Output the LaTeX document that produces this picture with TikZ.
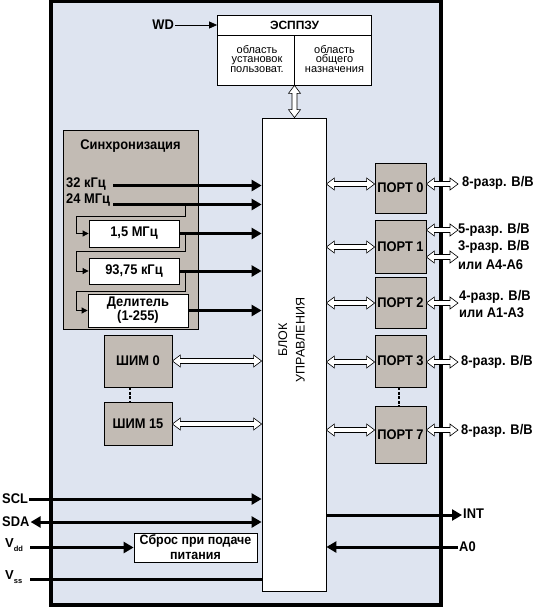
\documentclass[tikz,border=0pt]{standalone}
\usepackage{fontspec}
\setmainfont{Liberation Sans}
\newfontfamily\condf[FakeStretch=0.92]{Liberation Sans}
\usetikzlibrary{arrows.meta,calc}
\definecolor{bgc}{RGB}{222,228,240}
\definecolor{boxgray}{RGB}{194,187,180}
\newcommand\lblfont{\condf\bfseries\fontsize{14}{14}\selectfont}
\newcommand\rstfont{\condf\bfseries\fontsize{13.5}{15}\selectfont}
\newcommand\smallf{\fontsize{11}{9.8}\selectfont}
\newcommand\blkfont{\fontsize{12.5}{17.5}\selectfont}
\newcommand\eepfont{\bfseries\fontsize{12}{14}\selectfont}
% hollow double arrow, horizontal
\newcommand\hdarr[2]{\path[hollow] let \p1=(#1), \p2=(#2) in
  (\x1,\y1) -- ++(8pt,6pt) -- ++(0pt,-3.5pt) -- (\x2-8pt,\y2+2.5pt) -- ++(0pt,3.5pt)
  -- (\x2,\y2) -- ++(-8pt,-6pt) -- ++(0pt,3.5pt) -- (\x1+8pt,\y1-2.5pt) -- ++(0pt,-3.5pt) -- cycle;}
% hollow double arrow, vertical (#1 above #2)
\newcommand\vdarr[2]{\path[hollow] let \p1=(#1), \p2=(#2) in
  (\x1,\y1) -- ++(6pt,-8pt) -- ++(-3.5pt,0pt) -- (\x2+2.5pt,\y2+8pt) -- ++(3.5pt,0pt)
  -- (\x2,\y2) -- ++(-6pt,8pt) -- ++(3.5pt,0pt) -- (\x1-2.5pt,\y1-8pt) -- ++(-3.5pt,0pt) -- cycle;}
\begin{document}
\begin{tikzpicture}[x=1pt,y=-1pt,
  box/.style={draw, line width=0.8pt, inner sep=0pt, align=center},
  graybox/.style={box, fill=boxgray, font=\lblfont},
  whitebox/.style={box, fill=white},
  lbl/.style={font=\lblfont, inner sep=1pt},
  sig/.style={line width=3pt, -{Triangle[length=10pt,width=11pt]}},
  sigboth/.style={line width=3pt, {Triangle[length=10pt,width=11pt]}-{Triangle[length=10pt,width=11pt]}},
  sigline/.style={line width=3pt},
  feed/.style={line width=0.8pt, -{Triangle[length=6pt,width=6pt]}},
  warr/.style={line width=0.8pt, -{Triangle[length=8pt,width=7pt]}},
  hollow/.style={draw, fill=white, line width=0.6pt},
  dotc/.style={line width=2.5pt, dash pattern=on 3pt off 1.5pt}]
\useasboundingbox (0,0) rectangle (536,608);
\fill[white] (0,0) rectangle (536,608);
% chip frame
\node[draw, line width=3.3pt, fill=bgc, minimum width=390pt, minimum height=603.5pt, inner sep=0pt] (chip) at (246,303.25) {};
% control block
\node[whitebox, minimum width=64pt, minimum height=473pt] (blk) at (294,354.5) {};
\node[font=\blkfont, rotate=90, align=center, inner sep=0pt] (blktxt) at (291.5,340) {БЛОК\\УПРАВЛЕНИЯ};
% EEPROM
\node[whitebox, minimum width=154pt, minimum height=70pt] (eep) at (294.5,50) {};
\node[box, minimum width=154pt, minimum height=20pt, font=\eepfont] (eept) at (294.5,25) {ЭСППЗУ};
\draw[line width=0.8pt] (eep.south) -- (eep.south |- eept.south);
\node[font=\smallf, align=center, inner sep=0pt] (eepa) at (257,59) {область\\установок\\пользоват.};
\node[font=\smallf, align=center, inner sep=0pt] (eepb) at (334.5,59) {область\\общего\\назначения};
\node[lbl, anchor=east] (wd) at (175,25) {WD};
\draw[warr] (wd.east) -- (eept.west);
\vdarr{eep.south}{eep.south |- blk.north}
% synchronisation
\node[graybox, minimum width=135pt, minimum height=199pt] (sync) at (130.5,229.5) {};
\node[lbl] (synct) at (130.5,146.5) {Синхронизация};
\node[lbl, anchor=west] (t32) at (65,184) {32 кГц};
\node[lbl, anchor=west] (t24) at (65,200.5) {24 МГц};
\coordinate (c32) at (113,185.5);
\coordinate (c24) at (113,204.5);
\coordinate (j1) at (185,204.5);
\coordinate (fx) at (185,0);
\coordinate (lx) at (76.7,0);
\coordinate (r1) at (0,216.7);
\coordinate (r2) at (0,251.7);
\coordinate (r3) at (0,291.5);
\node[whitebox, minimum width=90pt, minimum height=27pt, font=\lblfont] (b15) at (134,233.5) {1,5 МГц};
\node[whitebox, minimum width=90pt, minimum height=26pt, font=\lblfont] (b9) at (134,271) {93,75 кГц};
\node[whitebox, minimum width=100pt, minimum height=33pt, font=\lblfont] (bdiv) at (138,310.5) {Делитель\\(1-255)};
\draw[sig] (c32) -- (c32 -| blk.west);
\draw[sig] (c24) -- (c24 -| blk.west);
\draw[feed] (j1) |- (lx |- r1) |- (b15.west);
\draw[feed] (b15.east) -- (fx |- b15.east) |- (lx |- r2) |- (b9.west);
\draw[feed] (b9.east) -- (fx |- b9.east) |- (lx |- r3) |- (bdiv.west);
\draw[sig] (b15.east) -- (b15.east -| blk.west);
\draw[sig] (b9.east) -- (b9.east -| blk.west);
\draw[sig] (bdiv.east) -- (bdiv.east -| blk.west);
% PWM
\node[graybox, minimum width=68pt, minimum height=52pt] (s0) at (138,361) {ШИМ 0};
\node[graybox, minimum width=68pt, minimum height=43pt] (s15) at (138,424) {ШИМ 15};
\coordinate (dx1) at (130,0);
\draw[dotc] (s0.south -| dx1) -- (s15.north -| dx1);
\hdarr{s0.east}{s0.east -| blk.west}
\hdarr{s15.east}{s15.east -| blk.west}
% ports
\node[graybox, minimum width=51pt, minimum height=50pt] (p0) at (400.5,188) {ПОРТ 0};
\node[graybox, minimum width=51pt, minimum height=53pt] (p1) at (400.5,246.5) {ПОРТ 1};
\node[graybox, minimum width=51pt, minimum height=51pt] (p2) at (400.5,302.5) {ПОРТ 2};
\node[graybox, minimum width=51pt, minimum height=52pt] (p3) at (400.5,361) {ПОРТ 3};
\node[graybox, minimum width=51pt, minimum height=57pt] (p7) at (400.5,434.5) {ПОРТ 7};
\coordinate (dx2) at (399,0);
\draw[dotc] (p3.south -| dx2) -- (p7.north -| dx2);
\coordinate (ox) at (458,0);
\coordinate (y0) at (0,184);
\coordinate (y1) at (0,247);
\coordinate (y1a) at (0,230);
\coordinate (y1b) at (0,257);
\coordinate (y2) at (0,303);
\coordinate (y3) at (0,362);
\coordinate (y7) at (0,430);
\hdarr{blk.east |- y0}{p0.west |- y0}
\hdarr{blk.east |- y1}{p1.west |- y1}
\hdarr{blk.east |- y2}{p2.west |- y2}
\hdarr{blk.east |- y3}{p3.west |- y3}
\hdarr{blk.east |- y7}{p7.west |- y7}
\hdarr{p0.east |- y0}{ox |- y0}
\hdarr{p1.east |- y1a}{ox |- y1a}
\hdarr{p1.east |- y1b}{ox |- y1b}
\hdarr{p2.east |- y2}{ox |- y2}
\hdarr{p3.east |- y3}{ox |- y3}
\hdarr{p7.east |- y7}{ox |- y7}
\node[lbl, anchor=west] (o0) at (461,183) {8-разр. В/В};
\node[lbl, anchor=west] (o1a) at (457,230) {5-разр. В/В};
\node[lbl, anchor=west] (o1b) at (457,247) {3-разр. В/В};
\node[lbl, anchor=west] (o1c) at (457,265) {или А4-А6};
\node[lbl, anchor=west] (o2a) at (458,296.5) {4-разр. В/В};
\node[lbl, anchor=west] (o2b) at (458,313) {или А1-А3};
\node[lbl, anchor=west] (o3) at (460,362) {8-разр. В/В};
\node[lbl, anchor=west] (o7) at (460,431) {8-разр. В/В};
% bottom signals
\node[lbl, anchor=west] (scl) at (1,499) {SCL};
\draw[sig] (scl.east) -- (scl.east -| blk.west);
\node[lbl, anchor=west] (sda) at (1,522) {SDA};
\draw[sigboth] (sda.east) -- (sda.east -| blk.west);
\node[whitebox, minimum width=123pt, minimum height=29pt, font=\rstfont] (rst) at (195.5,547.5) {Сброс при подаче\\питания};
\node[font=\bfseries\fontsize{13}{13}\selectfont, anchor=west, inner sep=0pt] (vdd) at (5,545) {V\raisebox{-4pt}{\fontsize{7.5}{7.5}\selectfont dd}};
\coordinate (vdl) at (30,547.5);
\draw[sig] (vdl) -- (rst.west);
\node[font=\bfseries\fontsize{13}{13}\selectfont, anchor=west, inner sep=0pt] (vss) at (5,577) {V\raisebox{-4pt}{\fontsize{7.5}{7.5}\selectfont ss}};
\coordinate (vsl) at (30,579);
\draw[sigline] (vsl) -- (vsl -| blk.west);
\node[lbl, anchor=west] (int) at (462,514) {INT};
\coordinate (yint) at (0,515);
\draw[sig] (blk.east |- yint) -- (int.west |- yint);
\node[lbl, anchor=west] (a0) at (458,547) {A0};
\draw[sig] (a0.west) -- (a0.west -| blk.east);
\end{tikzpicture}
\end{document}
